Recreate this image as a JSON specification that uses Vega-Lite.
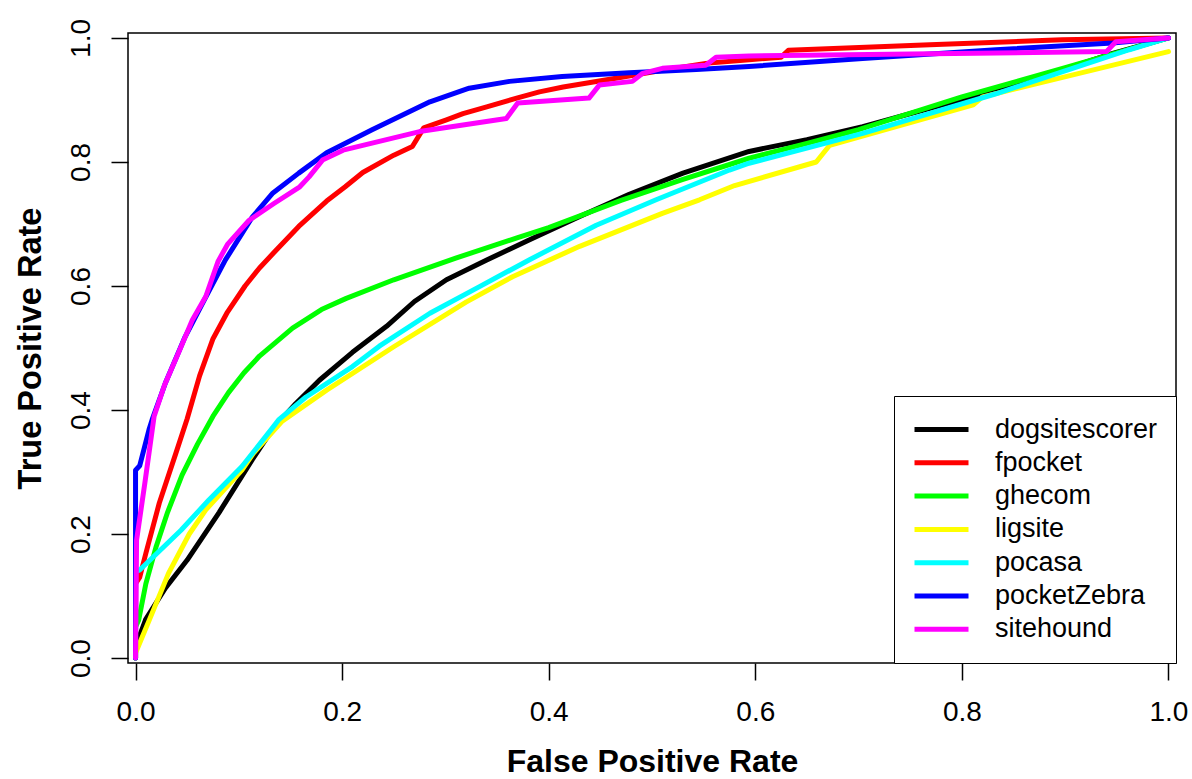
{
  "$schema": "https://vega.github.io/schema/vega-lite/v6.json",
  "width": 1048,
  "height": 630,
  "autosize": {"type": "none"},
  "padding": {"left": 128, "top": 33, "right": 16, "bottom": 116},
  "background": "white",
  "config": {
    "view": {"stroke": "black", "strokeWidth": 1.5},
    "font": "Liberation Sans"
  },
  "datasets": {
    "roc": [
      {"tool":"dogsitescorer","fpr":0,"tpr":0,"ord":0},
      {"tool":"dogsitescorer","fpr":0,"tpr":0.018,"ord":1},
      {"tool":"dogsitescorer","fpr":0.010,"tpr":0.063,"ord":2},
      {"tool":"dogsitescorer","fpr":0.029,"tpr":0.113,"ord":3},
      {"tool":"dogsitescorer","fpr":0.050,"tpr":0.158,"ord":4},
      {"tool":"dogsitescorer","fpr":0.081,"tpr":0.235,"ord":5},
      {"tool":"dogsitescorer","fpr":0.113,"tpr":0.320,"ord":6},
      {"tool":"dogsitescorer","fpr":0.133,"tpr":0.370,"ord":7},
      {"tool":"dogsitescorer","fpr":0.155,"tpr":0.410,"ord":8},
      {"tool":"dogsitescorer","fpr":0.178,"tpr":0.448,"ord":9},
      {"tool":"dogsitescorer","fpr":0.210,"tpr":0.493,"ord":10},
      {"tool":"dogsitescorer","fpr":0.243,"tpr":0.535,"ord":11},
      {"tool":"dogsitescorer","fpr":0.270,"tpr":0.575,"ord":12},
      {"tool":"dogsitescorer","fpr":0.301,"tpr":0.610,"ord":13},
      {"tool":"dogsitescorer","fpr":0.340,"tpr":0.642,"ord":14},
      {"tool":"dogsitescorer","fpr":0.381,"tpr":0.674,"ord":15},
      {"tool":"dogsitescorer","fpr":0.430,"tpr":0.712,"ord":16},
      {"tool":"dogsitescorer","fpr":0.478,"tpr":0.748,"ord":17},
      {"tool":"dogsitescorer","fpr":0.530,"tpr":0.782,"ord":18},
      {"tool":"dogsitescorer","fpr":0.594,"tpr":0.817,"ord":19},
      {"tool":"dogsitescorer","fpr":0.650,"tpr":0.836,"ord":20},
      {"tool":"dogsitescorer","fpr":0.704,"tpr":0.857,"ord":21},
      {"tool":"dogsitescorer","fpr":0.770,"tpr":0.887,"ord":22},
      {"tool":"dogsitescorer","fpr":0.833,"tpr":0.916,"ord":23},
      {"tool":"dogsitescorer","fpr":0.900,"tpr":0.950,"ord":24},
      {"tool":"dogsitescorer","fpr":0.946,"tpr":0.975,"ord":25},
      {"tool":"dogsitescorer","fpr":1,"tpr":1,"ord":26},

      {"tool":"fpocket","fpr":0,"tpr":0,"ord":0},
      {"tool":"fpocket","fpr":0,"tpr":0.12,"ord":1},
      {"tool":"fpocket","fpr":0.004,"tpr":0.13,"ord":2},
      {"tool":"fpocket","fpr":0.010,"tpr":0.169,"ord":3},
      {"tool":"fpocket","fpr":0.023,"tpr":0.250,"ord":4},
      {"tool":"fpocket","fpr":0.039,"tpr":0.330,"ord":5},
      {"tool":"fpocket","fpr":0.050,"tpr":0.386,"ord":6},
      {"tool":"fpocket","fpr":0.062,"tpr":0.455,"ord":7},
      {"tool":"fpocket","fpr":0.075,"tpr":0.515,"ord":8},
      {"tool":"fpocket","fpr":0.089,"tpr":0.558,"ord":9},
      {"tool":"fpocket","fpr":0.106,"tpr":0.600,"ord":10},
      {"tool":"fpocket","fpr":0.120,"tpr":0.629,"ord":11},
      {"tool":"fpocket","fpr":0.134,"tpr":0.654,"ord":12},
      {"tool":"fpocket","fpr":0.158,"tpr":0.696,"ord":13},
      {"tool":"fpocket","fpr":0.185,"tpr":0.737,"ord":14},
      {"tool":"fpocket","fpr":0.203,"tpr":0.760,"ord":15},
      {"tool":"fpocket","fpr":0.220,"tpr":0.783,"ord":16},
      {"tool":"fpocket","fpr":0.250,"tpr":0.811,"ord":17},
      {"tool":"fpocket","fpr":0.268,"tpr":0.825,"ord":18},
      {"tool":"fpocket","fpr":0.279,"tpr":0.855,"ord":19},
      {"tool":"fpocket","fpr":0.301,"tpr":0.868,"ord":20},
      {"tool":"fpocket","fpr":0.317,"tpr":0.878,"ord":21},
      {"tool":"fpocket","fpr":0.340,"tpr":0.889,"ord":22},
      {"tool":"fpocket","fpr":0.369,"tpr":0.903,"ord":23},
      {"tool":"fpocket","fpr":0.391,"tpr":0.913,"ord":24},
      {"tool":"fpocket","fpr":0.414,"tpr":0.921,"ord":25},
      {"tool":"fpocket","fpr":0.465,"tpr":0.935,"ord":26},
      {"tool":"fpocket","fpr":0.510,"tpr":0.948,"ord":27},
      {"tool":"fpocket","fpr":0.552,"tpr":0.959,"ord":28},
      {"tool":"fpocket","fpr":0.594,"tpr":0.965,"ord":29},
      {"tool":"fpocket","fpr":0.625,"tpr":0.969,"ord":30},
      {"tool":"fpocket","fpr":0.632,"tpr":0.980,"ord":31},
      {"tool":"fpocket","fpr":0.769,"tpr":0.989,"ord":32},
      {"tool":"fpocket","fpr":0.897,"tpr":0.997,"ord":33},
      {"tool":"fpocket","fpr":1,"tpr":1,"ord":34},

      {"tool":"ghecom","fpr":0,"tpr":0,"ord":0},
      {"tool":"ghecom","fpr":0,"tpr":0.05,"ord":1},
      {"tool":"ghecom","fpr":0.003,"tpr":0.061,"ord":2},
      {"tool":"ghecom","fpr":0.010,"tpr":0.120,"ord":3},
      {"tool":"ghecom","fpr":0.020,"tpr":0.180,"ord":4},
      {"tool":"ghecom","fpr":0.031,"tpr":0.235,"ord":5},
      {"tool":"ghecom","fpr":0.045,"tpr":0.295,"ord":6},
      {"tool":"ghecom","fpr":0.060,"tpr":0.345,"ord":7},
      {"tool":"ghecom","fpr":0.075,"tpr":0.390,"ord":8},
      {"tool":"ghecom","fpr":0.090,"tpr":0.428,"ord":9},
      {"tool":"ghecom","fpr":0.105,"tpr":0.460,"ord":10},
      {"tool":"ghecom","fpr":0.120,"tpr":0.487,"ord":11},
      {"tool":"ghecom","fpr":0.152,"tpr":0.532,"ord":12},
      {"tool":"ghecom","fpr":0.180,"tpr":0.562,"ord":13},
      {"tool":"ghecom","fpr":0.204,"tpr":0.580,"ord":14},
      {"tool":"ghecom","fpr":0.250,"tpr":0.610,"ord":15},
      {"tool":"ghecom","fpr":0.310,"tpr":0.645,"ord":16},
      {"tool":"ghecom","fpr":0.370,"tpr":0.678,"ord":17},
      {"tool":"ghecom","fpr":0.400,"tpr":0.694,"ord":18},
      {"tool":"ghecom","fpr":0.470,"tpr":0.738,"ord":19},
      {"tool":"ghecom","fpr":0.530,"tpr":0.772,"ord":20},
      {"tool":"ghecom","fpr":0.594,"tpr":0.806,"ord":21},
      {"tool":"ghecom","fpr":0.650,"tpr":0.830,"ord":22},
      {"tool":"ghecom","fpr":0.700,"tpr":0.852,"ord":23},
      {"tool":"ghecom","fpr":0.800,"tpr":0.905,"ord":24},
      {"tool":"ghecom","fpr":0.900,"tpr":0.952,"ord":25},
      {"tool":"ghecom","fpr":1,"tpr":1,"ord":26},

      {"tool":"ligsite","fpr":0,"tpr":0,"ord":0},
      {"tool":"ligsite","fpr":0,"tpr":0.008,"ord":1},
      {"tool":"ligsite","fpr":0.016,"tpr":0.072,"ord":2},
      {"tool":"ligsite","fpr":0.032,"tpr":0.137,"ord":3},
      {"tool":"ligsite","fpr":0.052,"tpr":0.200,"ord":4},
      {"tool":"ligsite","fpr":0.068,"tpr":0.239,"ord":5},
      {"tool":"ligsite","fpr":0.103,"tpr":0.303,"ord":6},
      {"tool":"ligsite","fpr":0.114,"tpr":0.330,"ord":7},
      {"tool":"ligsite","fpr":0.142,"tpr":0.382,"ord":8},
      {"tool":"ligsite","fpr":0.185,"tpr":0.432,"ord":9},
      {"tool":"ligsite","fpr":0.250,"tpr":0.502,"ord":10},
      {"tool":"ligsite","fpr":0.320,"tpr":0.574,"ord":11},
      {"tool":"ligsite","fpr":0.365,"tpr":0.615,"ord":12},
      {"tool":"ligsite","fpr":0.430,"tpr":0.664,"ord":13},
      {"tool":"ligsite","fpr":0.510,"tpr":0.717,"ord":14},
      {"tool":"ligsite","fpr":0.546,"tpr":0.739,"ord":15},
      {"tool":"ligsite","fpr":0.580,"tpr":0.762,"ord":16},
      {"tool":"ligsite","fpr":0.659,"tpr":0.800,"ord":17},
      {"tool":"ligsite","fpr":0.672,"tpr":0.827,"ord":18},
      {"tool":"ligsite","fpr":0.811,"tpr":0.892,"ord":19},
      {"tool":"ligsite","fpr":0.820,"tpr":0.905,"ord":20},
      {"tool":"ligsite","fpr":1,"tpr":0.978,"ord":21},

      {"tool":"pocasa","fpr":0,"tpr":0,"ord":0},
      {"tool":"pocasa","fpr":0,"tpr":0.140,"ord":1},
      {"tool":"pocasa","fpr":0.004,"tpr":0.142,"ord":2},
      {"tool":"pocasa","fpr":0.044,"tpr":0.206,"ord":3},
      {"tool":"pocasa","fpr":0.071,"tpr":0.255,"ord":4},
      {"tool":"pocasa","fpr":0.103,"tpr":0.309,"ord":5},
      {"tool":"pocasa","fpr":0.132,"tpr":0.370,"ord":6},
      {"tool":"pocasa","fpr":0.139,"tpr":0.385,"ord":7},
      {"tool":"pocasa","fpr":0.165,"tpr":0.421,"ord":8},
      {"tool":"pocasa","fpr":0.210,"tpr":0.470,"ord":9},
      {"tool":"pocasa","fpr":0.236,"tpr":0.503,"ord":10},
      {"tool":"pocasa","fpr":0.285,"tpr":0.556,"ord":11},
      {"tool":"pocasa","fpr":0.333,"tpr":0.599,"ord":12},
      {"tool":"pocasa","fpr":0.381,"tpr":0.642,"ord":13},
      {"tool":"pocasa","fpr":0.446,"tpr":0.698,"ord":14},
      {"tool":"pocasa","fpr":0.504,"tpr":0.739,"ord":15},
      {"tool":"pocasa","fpr":0.575,"tpr":0.787,"ord":16},
      {"tool":"pocasa","fpr":0.594,"tpr":0.798,"ord":17},
      {"tool":"pocasa","fpr":0.704,"tpr":0.846,"ord":18},
      {"tool":"pocasa","fpr":0.833,"tpr":0.910,"ord":19},
      {"tool":"pocasa","fpr":0.962,"tpr":0.981,"ord":20},
      {"tool":"pocasa","fpr":1,"tpr":1,"ord":21},

      {"tool":"pocketZebra","fpr":0,"tpr":0,"ord":0},
      {"tool":"pocketZebra","fpr":0,"tpr":0.303,"ord":1},
      {"tool":"pocketZebra","fpr":0.004,"tpr":0.310,"ord":2},
      {"tool":"pocketZebra","fpr":0.013,"tpr":0.368,"ord":3},
      {"tool":"pocketZebra","fpr":0.016,"tpr":0.384,"ord":4},
      {"tool":"pocketZebra","fpr":0.029,"tpr":0.444,"ord":5},
      {"tool":"pocketZebra","fpr":0.048,"tpr":0.518,"ord":6},
      {"tool":"pocketZebra","fpr":0.068,"tpr":0.582,"ord":7},
      {"tool":"pocketZebra","fpr":0.087,"tpr":0.642,"ord":8},
      {"tool":"pocketZebra","fpr":0.113,"tpr":0.711,"ord":9},
      {"tool":"pocketZebra","fpr":0.133,"tpr":0.750,"ord":10},
      {"tool":"pocketZebra","fpr":0.158,"tpr":0.782,"ord":11},
      {"tool":"pocketZebra","fpr":0.185,"tpr":0.815,"ord":12},
      {"tool":"pocketZebra","fpr":0.229,"tpr":0.852,"ord":13},
      {"tool":"pocketZebra","fpr":0.285,"tpr":0.897,"ord":14},
      {"tool":"pocketZebra","fpr":0.323,"tpr":0.919,"ord":15},
      {"tool":"pocketZebra","fpr":0.362,"tpr":0.930,"ord":16},
      {"tool":"pocketZebra","fpr":0.413,"tpr":0.938,"ord":17},
      {"tool":"pocketZebra","fpr":0.478,"tpr":0.944,"ord":18},
      {"tool":"pocketZebra","fpr":0.543,"tpr":0.949,"ord":19},
      {"tool":"pocketZebra","fpr":0.594,"tpr":0.954,"ord":20},
      {"tool":"pocketZebra","fpr":0.704,"tpr":0.967,"ord":21},
      {"tool":"pocketZebra","fpr":0.833,"tpr":0.981,"ord":22},
      {"tool":"pocketZebra","fpr":0.946,"tpr":0.992,"ord":23},
      {"tool":"pocketZebra","fpr":1,"tpr":1,"ord":24},

      {"tool":"sitehound","fpr":0,"tpr":0,"ord":0},
      {"tool":"sitehound","fpr":0.001,"tpr":0.190,"ord":1},
      {"tool":"sitehound","fpr":0.009,"tpr":0.282,"ord":2},
      {"tool":"sitehound","fpr":0.018,"tpr":0.390,"ord":3},
      {"tool":"sitehound","fpr":0.028,"tpr":0.440,"ord":4},
      {"tool":"sitehound","fpr":0.042,"tpr":0.494,"ord":5},
      {"tool":"sitehound","fpr":0.055,"tpr":0.545,"ord":6},
      {"tool":"sitehound","fpr":0.068,"tpr":0.583,"ord":7},
      {"tool":"sitehound","fpr":0.080,"tpr":0.640,"ord":8},
      {"tool":"sitehound","fpr":0.089,"tpr":0.667,"ord":9},
      {"tool":"sitehound","fpr":0.110,"tpr":0.706,"ord":10},
      {"tool":"sitehound","fpr":0.134,"tpr":0.733,"ord":11},
      {"tool":"sitehound","fpr":0.159,"tpr":0.760,"ord":12},
      {"tool":"sitehound","fpr":0.168,"tpr":0.776,"ord":13},
      {"tool":"sitehound","fpr":0.181,"tpr":0.803,"ord":14},
      {"tool":"sitehound","fpr":0.201,"tpr":0.819,"ord":15},
      {"tool":"sitehound","fpr":0.275,"tpr":0.849,"ord":16},
      {"tool":"sitehound","fpr":0.359,"tpr":0.870,"ord":17},
      {"tool":"sitehound","fpr":0.370,"tpr":0.895,"ord":18},
      {"tool":"sitehound","fpr":0.439,"tpr":0.903,"ord":19},
      {"tool":"sitehound","fpr":0.449,"tpr":0.924,"ord":20},
      {"tool":"sitehound","fpr":0.481,"tpr":0.930,"ord":21},
      {"tool":"sitehound","fpr":0.491,"tpr":0.943,"ord":22},
      {"tool":"sitehound","fpr":0.510,"tpr":0.951,"ord":23},
      {"tool":"sitehound","fpr":0.552,"tpr":0.956,"ord":24},
      {"tool":"sitehound","fpr":0.562,"tpr":0.969,"ord":25},
      {"tool":"sitehound","fpr":0.594,"tpr":0.971,"ord":26},
      {"tool":"sitehound","fpr":0.940,"tpr":0.978,"ord":27},
      {"tool":"sitehound","fpr":0.949,"tpr":0.994,"ord":28},
      {"tool":"sitehound","fpr":1,"tpr":1,"ord":29}
    ]
  },
  "data": {"name": "roc"},
  "mark": {"type": "line", "strokeWidth": 5, "strokeJoin": "round", "strokeCap": "round", "clip": true},
  "encoding": {
    "x": {
      "field": "fpr", "type": "quantitative",
      "scale": {"domain": [-0.0073, 1.0073], "nice": false, "zero": false},
      "axis": {
        "title": "False Positive Rate",
        "values": [0, 0.2, 0.4, 0.6, 0.8, 1.0],
        "format": ".1f",
        "grid": false, "domain": false,
        "tickSize": 17, "tickWidth": 1.5, "tickColor": "black",
        "labelFontSize": 28, "labelColor": "black", "labelPadding": 40,
        "labelBaseline": "alphabetic", "labelFlush": false, "labelOverlap": false,
        "titleFontSize": 32, "titleFontWeight": "bold", "titleColor": "black",
        "titleBaseline": "alphabetic", "titleY": 108
      }
    },
    "y": {
      "field": "tpr", "type": "quantitative",
      "scale": {"domain": [-0.008, 1.008], "nice": false, "zero": false},
      "axis": {
        "title": "True Positive Rate",
        "values": [0, 0.2, 0.4, 0.6, 0.8, 1.0],
        "format": ".1f",
        "grid": false, "domain": false,
        "tickSize": 17, "tickWidth": 1.5, "tickColor": "black",
        "labelFontSize": 28, "labelColor": "black", "labelPadding": 22,
        "labelAngle": -90, "labelAlign": "center", "labelBaseline": "alphabetic",
        "labelFlush": false, "labelOverlap": false,
        "titleFontSize": 32.5, "titleFontWeight": "bold", "titleColor": "black",
        "titleAngle": -90, "titleAlign": "center", "titleBaseline": "alphabetic",
        "titleX": -88, "titleY": 315
      }
    },
    "color": {
      "field": "tool", "type": "nominal",
      "scale": {
        "domain": ["dogsitescorer", "fpocket", "ghecom", "ligsite", "pocasa", "pocketZebra", "sitehound"],
        "range": ["#000000", "#FF0000", "#00FF00", "#FFFF00", "#00FFFF", "#0000FF", "#FF00FF"]
      },
      "legend": {
        "title": null,
        "orient": "bottom-right",
        "offset": 0,
        "padding": 18,
        "fillColor": "white",
        "strokeColor": "black",
        "symbolType": "stroke",
        "symbolSize": 2916,
        "symbolStrokeWidth": 5,
        "labelFontSize": 27,
        "labelColor": "black",
        "labelOffset": 24,
        "labelLimit": 400,
        "clipHeight": 31,
        "rowPadding": 2.3
      }
    },
    "order": {"field": "ord", "type": "quantitative"}
  }
}
